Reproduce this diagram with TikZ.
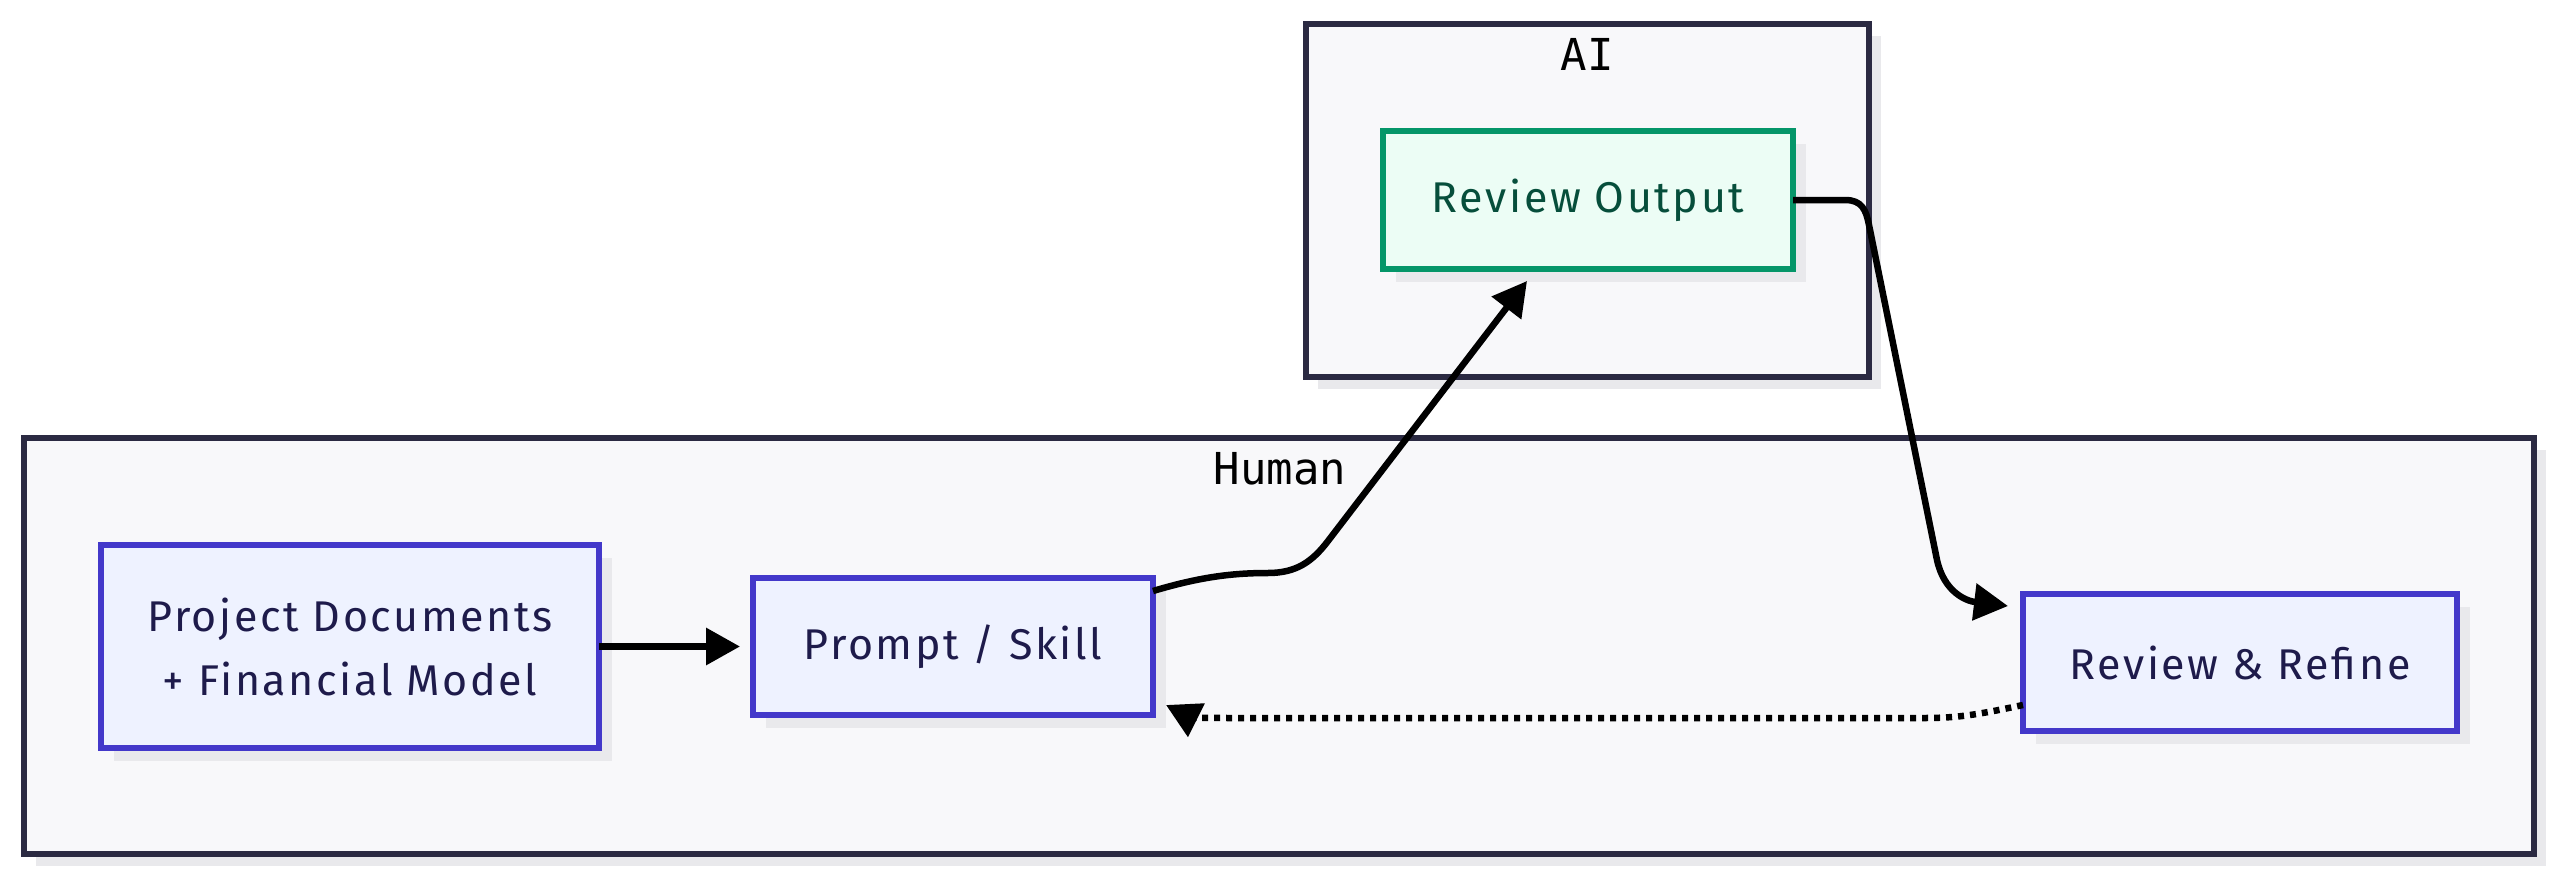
\documentclass[tikz,border=0pt]{standalone}
\usepackage{fontspec}
\setmainfont{Fira Sans}[LetterSpace=6]
\newfontfamily\titlefont{DejaVu Sans Mono}
\usetikzlibrary{arrows.meta,shadows,calc}
\definecolor{clfill}{HTML}{F8F8FA}
\definecolor{clborder}{HTML}{2B2A42}
\definecolor{shade}{HTML}{E9E9EC}
\definecolor{ndfill}{HTML}{EEF2FF}
\definecolor{ndborder}{HTML}{4338CA}
\definecolor{ndtext}{HTML}{1E1B4B}
\definecolor{rofill}{HTML}{ECFDF5}
\definecolor{roborder}{HTML}{059669}
\definecolor{rotext}{HTML}{064E3B}
\begin{document}
\begin{tikzpicture}[x=1pt,y=-1pt,
  cluster/.style={draw=clborder, fill=clfill, line width=6pt, rectangle, inner sep=0pt, outer sep=0pt,
    drop shadow={shadow xshift=12pt, shadow yshift=-12pt, fill=shade, opacity=1}},
  boxnode/.style={draw=ndborder, fill=ndfill, text=ndtext, line width=6pt, rectangle, inner sep=0pt, outer sep=0pt,
    align=center, font={\fontsize{43}{64}\selectfont},
    drop shadow={shadow xshift=13pt, shadow yshift=-13pt, fill=shade, opacity=1}},
  greennode/.style={boxnode, draw=roborder, fill=rofill, text=rotext},
  title/.style={font={\titlefont\fontsize{44}{50}\selectfont}, text=black, inner sep=0pt, anchor=base},
  edge/.style={draw=black, line width=6.5pt, -{Triangle[length=34pt,width=36pt]}},
  dotedge/.style={edge, dash pattern=on 6pt off 6pt}
]
\useasboundingbox (0,0) rectangle (2560,880);
\fill[white] (0,0) rectangle (2560,880);

% clusters
\node[cluster, minimum width=563pt, minimum height=353pt] (AIc) at (1587.5,200.5) {};
\node[cluster, minimum width=2510pt, minimum height=416pt] (HUc) at (1279,646) {};
\node[title] (AIt) at (1587,71) {AI};
\node[title] (HUt) at (1280,484) {Human};

% nodes
\node[greennode, minimum width=410pt, minimum height=138pt] (RO) at (1588,200) {Review Output};
\node[boxnode, minimum width=498pt, minimum height=203pt] (PD) at (350,646.5) {Project Documents\\+ Financial Model};
\node[boxnode, minimum width=400pt, minimum height=137pt] (PS) at (953,646.5) {Prompt / Skill};
\node[boxnode, minimum width=434pt, minimum height=137pt] (RR) at (2240,662.5) {Review \& Refine};

% edges
\draw[edge, shorten >=13pt] (PD) -- (PS);
\draw[edge] ($(PS.north east)+(0,13)$) .. controls (1200,577) and (1232,573) .. (1268,573)
   .. controls (1296,573) and (1312,562) .. (1328,541) -- ($(RO.south)+(-61,12)$);
\draw[edge] (RO.east) -- (1845,200) .. controls (1862,200) and (1866,210) .. (1869,225)
   -- (1937,560) .. controls (1944,592) and (1966,601) .. ($(RR.north west)+(-15,12)$);
\draw[dotedge] ($(RR.south west)+(0,-26)$) .. controls (1980,714) and (1960,718) .. (1925,718)
   -- (1230,718) .. controls (1200,718) and (1190,717) .. ($(PS.south east)+(13,-10)$);
\end{tikzpicture}
\end{document}
